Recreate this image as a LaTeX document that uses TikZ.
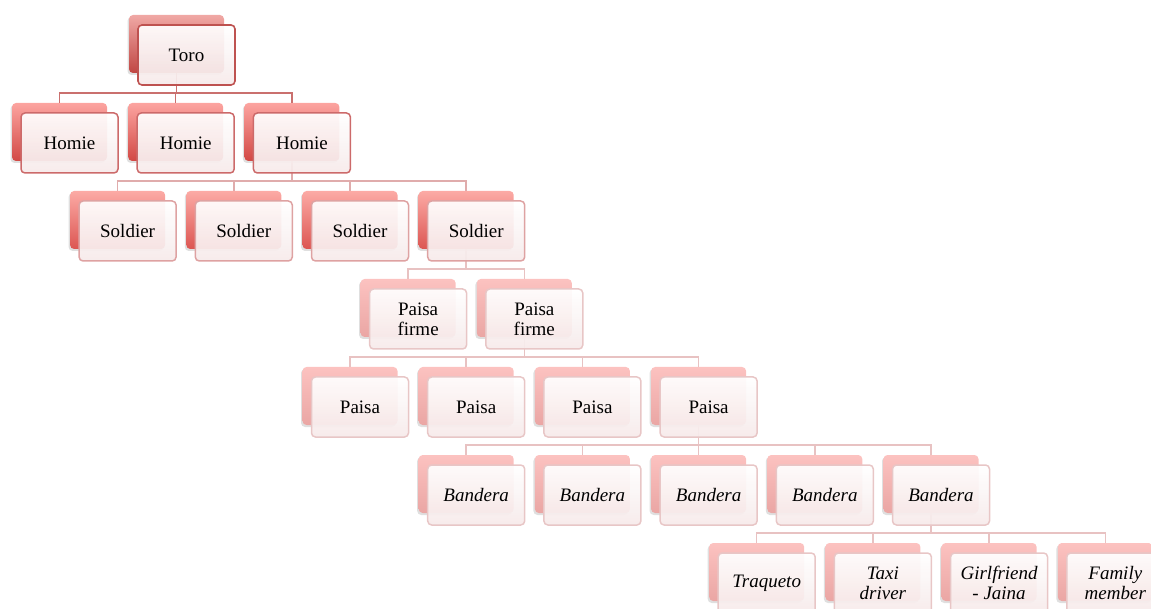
\documentclass[tikz,border=0pt]{standalone}
\usepackage{fontspec}
\setmainfont{Liberation Serif}
\usetikzlibrary{shadows}

\definecolor{lineA}{RGB}{202,112,110}
\definecolor{lineB}{RGB}{224,172,172}
\definecolor{lineC}{RGB}{232,194,194}
\definecolor{edgeA}{RGB}{190,82,80}
\definecolor{edgeB}{RGB}{204,106,106}
\definecolor{edgeC}{RGB}{222,162,162}
\definecolor{edgeD}{RGB}{232,198,198}
\definecolor{backAtop}{RGB}{240,168,165}
\definecolor{backAbot}{RGB}{192,70,66}
\definecolor{backBtop}{RGB}{252,164,160}
\definecolor{backBbot}{RGB}{210,72,68}
\definecolor{backCtop}{RGB}{252,170,165}
\definecolor{backCbot}{RGB}{220,86,82}
\definecolor{backDtop}{RGB}{252,194,192}
\definecolor{backDbot}{RGB}{234,166,164}
\definecolor{frontbot}{RGB}{246,234,234}

\begin{document}
\begin{tikzpicture}[x=1pt, y=-1pt,
    cardback/.style={rectangle, rounded corners=4pt, minimum width=95pt, minimum height=58pt, inner sep=0pt,
        drop shadow={shadow xshift=-1.5pt, shadow yshift=-2pt, opacity=0.25}},
    backA/.style={cardback, top color=backAtop, bottom color=backAbot},
    backB/.style={cardback, top color=backBtop, bottom color=backBbot},
    backC/.style={cardback, top color=backCtop, bottom color=backCbot},
    backD/.style={cardback, top color=backDtop, bottom color=backDbot},
    card/.style={rectangle, rounded corners=4pt, minimum width=97pt, minimum height=60pt, inner sep=2pt,
        align=center, font=\fontsize{19}{20}\selectfont, top color=white, bottom color=frontbot,
        fill opacity=0.93, text opacity=1},
    cardA/.style={card, draw=edgeA, line width=1.6pt},
    cardB/.style={card, draw=edgeB, line width=1.5pt},
    cardC/.style={card, draw=edgeC, line width=1.5pt},
    cardD/.style={card, draw=edgeD, line width=1.5pt},
    leaf/.style={cardD, font=\fontsize{19}{20}\selectfont\itshape},
    linkA/.style={draw=lineA, line width=1.5pt},
    linkB/.style={draw=lineB, line width=1.5pt},
    linkC/.style={draw=lineC, line width=1.5pt}]

        \useasboundingbox (0, 0) rectangle (1151, 609);

        % back cards
        \node[backA] (t) at (176.5, 44) {};
        \node[backB] (h1) at (59.5, 132) {};
        \node[backB] (h2) at (175.7, 132) {};
        \node[backB] (h3) at (291.9, 132) {};
        \node[backC] (s1) at (117.6, 220) {};
        \node[backC] (s2) at (233.8, 220) {};
        \node[backC] (s3) at (350, 220) {};
        \node[backC] (s4) at (466.2, 220) {};
        \node[backD] (pf1) at (408.1, 308) {};
        \node[backD] (pf2) at (524.3, 308) {};
        \node[backD] (p1) at (350, 396) {};
        \node[backD] (p2) at (466.2, 396) {};
        \node[backD] (p3) at (582.4, 396) {};
        \node[backD] (p4) at (698.6, 396) {};
        \node[backD] (b1) at (466.2, 484) {};
        \node[backD] (b2) at (582.4, 484) {};
        \node[backD] (b3) at (698.6, 484) {};
        \node[backD] (b4) at (814.8, 484) {};
        \node[backD] (b5) at (931, 484) {};
        \node[backD] (l1) at (756.7, 572) {};
        \node[backD] (l2) at (872.9, 572) {};
        \node[backD] (l3) at (989.1, 572) {};
        \node[backD] (l4) at (1105.3, 572) {};

        % connectors
        \draw[linkA] (h1.north) -- ++(0, -10) -| (t.south);
        \draw[linkA] (h2.north) -- ++(0, -10) -| (t.south);
        \draw[linkA] (h3.north) -- ++(0, -10) -| (t.south);
        \draw[linkB] (s1.north) -- ++(0, -10) -| (h3.south);
        \draw[linkB] (s2.north) -- ++(0, -10) -| (h3.south);
        \draw[linkB] (s3.north) -- ++(0, -10) -| (h3.south);
        \draw[linkB] (s4.north) -- ++(0, -10) -| (h3.south);
        \draw[linkC] (pf1.north) -- ++(0, -10) -| (s4.south);
        \draw[linkC] (pf2.north) -- ++(0, -10) -| (s4.south);
        \draw[linkC] (p1.north) -- ++(0, -10) -| (pf2.south);
        \draw[linkC] (p2.north) -- ++(0, -10) -| (pf2.south);
        \draw[linkC] (p3.north) -- ++(0, -10) -| (pf2.south);
        \draw[linkC] (p4.north) -- ++(0, -10) -| (pf2.south);
        \draw[linkC] (b1.north) -- ++(0, -10) -| (p4.south);
        \draw[linkC] (b2.north) -- ++(0, -10) -| (p4.south);
        \draw[linkC] (b3.north) -- ++(0, -10) -| (p4.south);
        \draw[linkC] (b4.north) -- ++(0, -10) -| (p4.south);
        \draw[linkC] (b5.north) -- ++(0, -10) -| (p4.south);
        \draw[linkC] (l1.north) -- ++(0, -10) -| (b5.south);
        \draw[linkC] (l2.north) -- ++(0, -10) -| (b5.south);
        \draw[linkC] (l3.north) -- ++(0, -10) -| (b5.south);
        \draw[linkC] (l4.north) -- ++(0, -10) -| (b5.south);

        % front cards
        \node[cardA] (tf) at (186.5, 55) {Toro};
        \node[cardB] (h1f) at (69.5, 143) {Homie};
        \node[cardB] (h2f) at (185.7, 143) {Homie};
        \node[cardB] (h3f) at (301.9, 143) {Homie};
        \node[cardC] (s1f) at (127.6, 231) {Soldier};
        \node[cardC] (s2f) at (243.8, 231) {Soldier};
        \node[cardC] (s3f) at (360, 231) {Soldier};
        \node[cardC] (s4f) at (476.2, 231) {Soldier};
        \node[cardD] (pf1f) at (418.1, 319) {Paisa\\firme};
        \node[cardD] (pf2f) at (534.3, 319) {Paisa\\firme};
        \node[cardD] (p1f) at (360, 407) {Paisa};
        \node[cardD] (p2f) at (476.2, 407) {Paisa};
        \node[cardD] (p3f) at (592.4, 407) {Paisa};
        \node[cardD] (p4f) at (708.6, 407) {Paisa};
        \node[leaf] (b1f) at (476.2, 495) {Bandera};
        \node[leaf] (b2f) at (592.4, 495) {Bandera};
        \node[leaf] (b3f) at (708.6, 495) {Bandera};
        \node[leaf] (b4f) at (824.8, 495) {Bandera};
        \node[leaf] (b5f) at (941, 495) {Bandera};
        \node[leaf] (l1f) at (766.7, 583) {Traqueto};
        \node[leaf] (l2f) at (882.9, 583) {Taxi\\driver};
        \node[leaf] (l3f) at (999.1, 583) {Girlfriend\\- Jaina};
        \node[leaf] (l4f) at (1115.3, 583) {Family\\member};

    \end{tikzpicture}
\end{document}
